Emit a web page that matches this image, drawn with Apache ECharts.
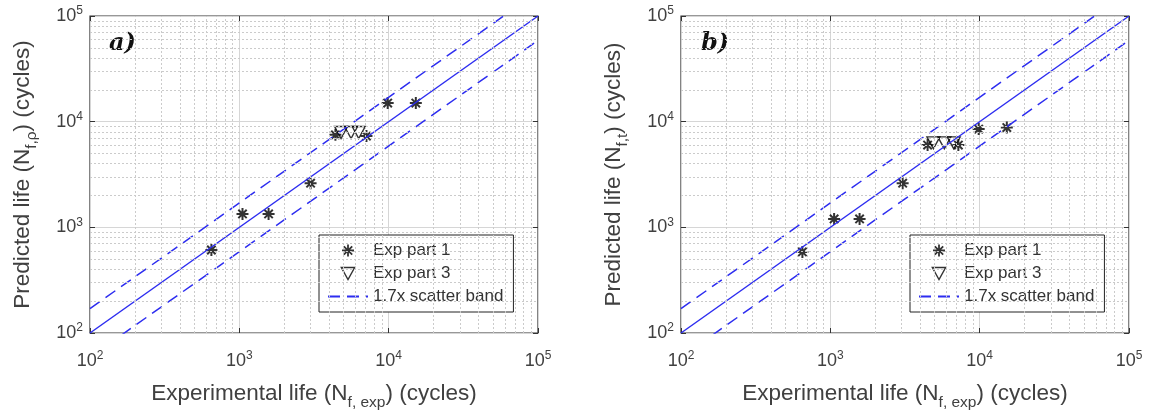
<!DOCTYPE html>
<html>
<head>
<meta charset="utf-8">
<script src="https://cdn.jsdelivr.net/npm/echarts@6/dist/echarts.min.js"></script>
<style>
  html, body { margin: 0; padding: 0; background: #fff; }
  #main { width: 1153px; height: 415px; }
</style>
</head>
<body>
<div id="main"></div>
<script>
// data
var axisRange = [100, 100000]
var bandFactor = 1.7

// a) Predicted life N_f,rho
var expA1 = [650, 1050, 1570, 3000, 4400, 7100, 9850, 15200]
var predA1 = [610, 1340, 1340, 2620, 7500, 7300, 15000, 15000]
var expA3 = [4800, 5600, 6300]
var predA3 = [7900, 7900, 7900]

// b) Predicted life N_f,t
var expB1 = [650, 1060, 1570, 3050, 4480, 7200, 9850, 15200]
var predB1 = [585, 1200, 1200, 2620, 6000, 6000, 8500, 8800]
var expB3 = [4900, 5800, 6700]
var predB3 = [6300, 6300, 6300]

var blue = '#2d2df0'
var txt = '#404040'
var font = 'Liberation Sans'

var starPath = 'path://M5,0L5,10M0,5L10,5M1.5,1.5L8.5,8.5M1.5,8.5L8.5,1.5'
var triPath = 'path://M0,0L10,0L5,9Z'

function pairs(xs, ys) {
  return xs.map(function (x, i) { return [x, ys[i]] })
}

// minor grid values 2..9 x 10^k (log grid lines, not data)
var minorVals = []
for (var k = 2; k < 5; k++) {
  for (var m = 2; m < 10; m++) minorVals.push(m * Math.pow(10, k))
}

function supLabel(v) {
  return '10{sup|' + Math.round(Math.log10(v)) + '}'
}

var richTick = {
  sup: { fontSize: 12, verticalAlign: 'top', lineHeight: 22, color: txt, fontFamily: font, padding: [0, 0, 9, 0] }
}

var nameStyle = {
  color: txt, fontSize: 22.5, fontFamily: font, lineHeight: 26,
  rich: { sub: { fontSize: 15.5, fontFamily: font, color: txt, verticalAlign: 'bottom', lineHeight: 34 } }
}

function xAx(gi, pos) {
  var main = pos === 'bottom'
  return {
    type: 'log', logBase: 10, gridIndex: gi, position: pos,
    min: axisRange[0], max: axisRange[1],
    name: main ? 'Experimental life (N{sub|f, exp}) (cycles)' : '',
    nameLocation: 'middle', nameGap: 44,
    nameTextStyle: nameStyle,
    axisLine: { show: false },
    axisTick: { show: true, inside: true, length: 5, lineStyle: { color: '#333' } },
    axisLabel: {
      show: main, margin: 17, color: txt, fontSize: 18, fontFamily: font,
      formatter: supLabel, rich: richTick
    },
    splitLine: { show: main, lineStyle: { color: '#d6d6d6', width: 1 } }
  }
}

function yAx(gi, pos, label) {
  var main = pos === 'left'
  return {
    type: 'log', logBase: 10, gridIndex: gi, position: pos,
    min: axisRange[0], max: axisRange[1],
    name: main ? 'Predicted life (N{sub|' + label + '}) (cycles)' : '',
    nameLocation: 'middle', nameGap: 50,
    nameTextStyle: nameStyle,
    axisLine: { show: false },
    axisTick: { show: true, inside: true, length: 5, lineStyle: { color: '#333' } },
    axisLabel: {
      show: main, margin: 7, color: txt, fontSize: 18, fontFamily: font,
      formatter: supLabel, rich: richTick
    },
    splitLine: { show: main, lineStyle: { color: '#d6d6d6', width: 1 } }
  }
}

function panelSeries(gi, e1, p1, e3, p3) {
  var lo = axisRange[0], hi = axisRange[1]
  var gridMarks = []
  minorVals.forEach(function (v) {
    gridMarks.push({ xAxis: v })
    gridMarks.push({ yAxis: v })
  })
  return [
    {
      type: 'scatter', xAxisIndex: gi, yAxisIndex: gi, data: [], silent: true,
      markLine: {
        silent: true, symbol: ['none', 'none'], animation: false,
        label: { show: false },
        lineStyle: { type: [2, 2], color: '#cbcbcb', width: 1 },
        data: gridMarks
      }
    },
    {
      name: '1.7x scatter band', type: 'line', xAxisIndex: gi, yAxisIndex: gi,
      data: [[lo, lo * bandFactor], [hi, hi * bandFactor]],
      symbol: 'none', lineStyle: { color: blue, width: 1.5, type: [12, 7] }, itemStyle: { color: blue }
    },
    {
      name: '1.7x scatter band', type: 'line', xAxisIndex: gi, yAxisIndex: gi,
      data: [[lo, lo / bandFactor], [hi, hi / bandFactor]],
      symbol: 'none', lineStyle: { color: blue, width: 1.5, type: [12, 7] }, itemStyle: { color: blue }
    },
    {
      name: 'ref', type: 'line', xAxisIndex: gi, yAxisIndex: gi,
      data: [[lo, lo], [hi, hi]],
      symbol: 'none', lineStyle: { color: blue, width: 1.5 }
    },
    {
      name: 'Exp part 3', type: 'scatter', xAxisIndex: gi, yAxisIndex: gi,
      data: pairs(e3, p3), symbol: triPath, symbolSize: [13, 12],
      itemStyle: { color: 'rgba(0,0,0,0)', borderColor: '#000', borderWidth: 1.4 }
    },
    {
      name: 'Exp part 1', type: 'scatter', xAxisIndex: gi, yAxisIndex: gi,
      data: pairs(e1, p1), symbol: starPath, symbolSize: 12,
      itemStyle: { color: 'rgba(0,0,0,0)', borderColor: '#000', borderWidth: 2 }
    }
  ]
}

function legendFor(left) {
  return {
    orient: 'vertical', left: left, top: 235, width: 199,
    padding: [7, 10, 7, 8], itemGap: 6, itemWidth: 40, itemHeight: 12,
    backgroundColor: '#fff', borderColor: '#222', borderWidth: 1,
    textStyle: { color: '#333', fontSize: 17, fontFamily: font },
    selectedMode: false,
    data: [
      { name: 'Exp part 1', icon: starPath, itemStyle: { color: 'rgba(0,0,0,0)', borderColor: '#000', borderWidth: 1.8 } },
      { name: 'Exp part 3', icon: triPath, itemStyle: { color: 'rgba(0,0,0,0)', borderColor: '#000', borderWidth: 1.4 } },
      { name: '1.7x scatter band', itemStyle: { opacity: 0 } }
    ]
  }
}

var myChart = echarts.init(document.getElementById('main'), null, { renderer: 'canvas' })

var gridBase = { top: 16, bottom: 82, show: true, borderColor: '#333', borderWidth: 1.2, backgroundColor: '#fff', outerBoundsMode: 'none', containLabel: false }

var option = {
  animation: false,
  backgroundColor: '#fff',
  grid: [
    Object.assign({ left: 90, right: 615 }, gridBase),
    Object.assign({ left: 681, right: 24 }, gridBase)
  ],
  xAxis: [xAx(0, 'bottom'), xAx(1, 'bottom'), xAx(0, 'top'), xAx(1, 'top')],
  yAxis: [yAx(0, 'left', 'f,ρ'), yAx(1, 'left', 'f,t'), yAx(0, 'right', ''), yAx(1, 'right', '')],
  legend: [legendFor(319), legendFor(910)],
  graphic: [
    { type: 'text', left: 109, top: 32, style: { text: 'a)', font: 'italic bold 24px "DejaVu Serif"', fill: '#111' } },
    { type: 'text', left: 701, top: 32, style: { text: 'b)', font: 'italic bold 24px "DejaVu Serif"', fill: '#111' } }
  ],
  series: panelSeries(0, expA1, predA1, expA3, predA3).concat(panelSeries(1, expB1, predB1, expB3, predB3))
}

myChart.setOption(option)
</script>
</body>
</html>
